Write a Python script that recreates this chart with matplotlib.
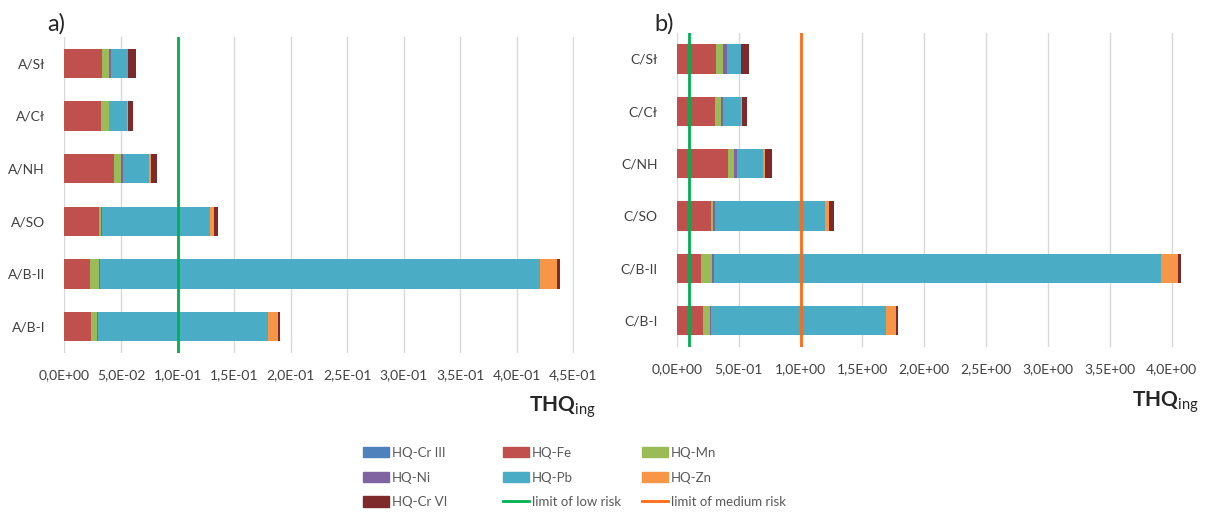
import numpy as np
import matplotlib.pyplot as plt
from matplotlib.ticker import FuncFormatter, MultipleLocator
from matplotlib.patches import Patch
from matplotlib.lines import Line2D

plt.rcParams['font.family'] = ['Lato', 'DejaVu Sans']
plt.rcParams['mathtext.fontset'] = 'custom'
plt.rcParams['mathtext.rm'] = 'Lato'
plt.rcParams['mathtext.bf'] = 'Lato:bold'

metals = ['HQ-Cr III', 'HQ-Fe', 'HQ-Mn', 'HQ-Ni', 'HQ-Pb', 'HQ-Zn', 'HQ-Cr VI']
colors = ['#4F81BD', '#C0504D', '#9BBB59', '#8064A2', '#4BACC6', '#F79646', '#7F2A2A']

# categories drawn bottom -> top
cats_a = ['A/B-I', 'A/B-II', 'A/SO', 'A/NH', 'A/Cł', 'A/Sł']
cats_c = ['C/B-I', 'C/B-II', 'C/SO', 'C/NH', 'C/Cł', 'C/Sł']

# panel a) values, one list per metal, order as cats_a
a_cr3 = [0.0, 0.0, 0.0, 0.0, 0.0, 0.0]
a_fe = [0.0234, 0.0222, 0.0304, 0.0440, 0.0320, 0.0330]
a_mn = [0.0056, 0.0082, 0.0018, 0.0056, 0.0070, 0.0066]
a_ni = [0.0003, 0.0008, 0.0010, 0.0023, 0.0006, 0.0015]
a_pb = [0.1510, 0.3895, 0.0956, 0.0229, 0.0156, 0.0150]
a_zn = [0.0082, 0.0150, 0.0030, 0.0015, 0.0009, 0.0003]
a_cr6 = [0.0020, 0.0020, 0.0040, 0.0056, 0.0048, 0.0065]

# panel b) values
c_cr3 = [0.0, 0.0, 0.0, 0.0, 0.0, 0.0]
c_fe = [0.213, 0.197, 0.275, 0.412, 0.305, 0.315]
c_mn = [0.054, 0.089, 0.013, 0.048, 0.054, 0.054]
c_ni = [0.005, 0.011, 0.019, 0.022, 0.016, 0.032]
c_pb = [1.418, 3.620, 0.892, 0.215, 0.143, 0.113]
c_zn = [0.078, 0.137, 0.032, 0.016, 0.011, 0.003]
c_cr6 = [0.016, 0.020, 0.040, 0.054, 0.038, 0.065]

low_risk = 0.1
medium_risk = 1.0

txt = '#404040'
grid_c = '#D9D9D9'
green = '#00B050'
orange = '#FF6A13'


def fmt(v, pos):
    return f'{v:.1E}'.replace('.', ',')


def draw(ax, cats, series, xmax, step, lines):
    y = np.arange(len(cats))
    left = np.zeros(len(cats))
    for vals, c in zip(series, colors):
        ax.barh(y, vals, left=left, height=0.56, color=c, zorder=3)
        left += np.array(vals)
    for xv, lc in lines:
        ax.axvline(xv, color=lc, lw=2, zorder=4)
    ax.set_yticks(y)
    ax.set_yticklabels(cats, fontsize=11.5, color=txt)
    ax.set_ylim(-0.5, len(cats) - 0.5)
    ax.set_xlim(0, xmax)
    ax.xaxis.set_major_locator(MultipleLocator(step))
    ax.xaxis.set_major_formatter(FuncFormatter(fmt))
    ax.grid(axis='x', color=grid_c, lw=1, zorder=0)
    for s in ax.spines.values():
        s.set_visible(False)
    ax.tick_params(length=0, labelsize=10, labelcolor=txt)
    ax.tick_params(axis='x', pad=12)
    ax.tick_params(axis='y', pad=14)


fig = plt.figure(figsize=(12.1, 5.13), dpi=100)
ax1 = fig.add_axes([0.0533, 0.312, 0.4211, 0.616])
ax2 = fig.add_axes([0.5595, 0.324, 0.419, 0.612])

draw(ax1, cats_a, [a_cr3, a_fe, a_mn, a_ni, a_pb, a_zn, a_cr6], 0.4505, 0.05,
     [(low_risk, green)])
draw(ax2, cats_c, [c_cr3, c_fe, c_mn, c_ni, c_pb, c_zn, c_cr6], 4.1, 0.5,
     [(low_risk, green), (medium_risk, orange)])
ax2.set_xticks(np.arange(0, 4.01, 0.5))

fig.text(0.039, 0.932, 'a)', fontsize=17, color='#262626', va='bottom')
fig.text(0.541, 0.932, 'b)', fontsize=17, color='#262626', va='bottom')
fig.text(0.492, 0.198, r'$\mathbf{THQ}_{\mathrm{ing}}$', fontsize=15, ha='right',
         color='#262626')
fig.text(0.991, 0.208, r'$\mathbf{THQ}_{\mathrm{ing}}$', fontsize=15, ha='right',
         color='#262626')

# legend: three equal-width columns like Excel, row-wise order
h = [Patch(color=c, label=m) for m, c in zip(metals, colors)]
h.append(Line2D([], [], color=green, lw=2, label='limit of low risk'))
h.append(Line2D([], [], color=orange, lw=2, label='limit of medium risk'))
col_x = [363, 503, 642]
for k, x0 in enumerate(col_x):
    hs = h[k::3]
    leg = fig.legend(hs, [p.get_label() for p in hs], loc='upper left',
                     bbox_to_anchor=(x0 / 1210, 1 - 447 / 513), frameon=False,
                     fontsize=9.5, handlelength=2.0, handleheight=0.8,
                     labelspacing=0.95, handletextpad=0.2, borderpad=0,
                     borderaxespad=0)
    for t in leg.get_texts():
        t.set_color('#595959')

fig.savefig('out.png', dpi=100)
